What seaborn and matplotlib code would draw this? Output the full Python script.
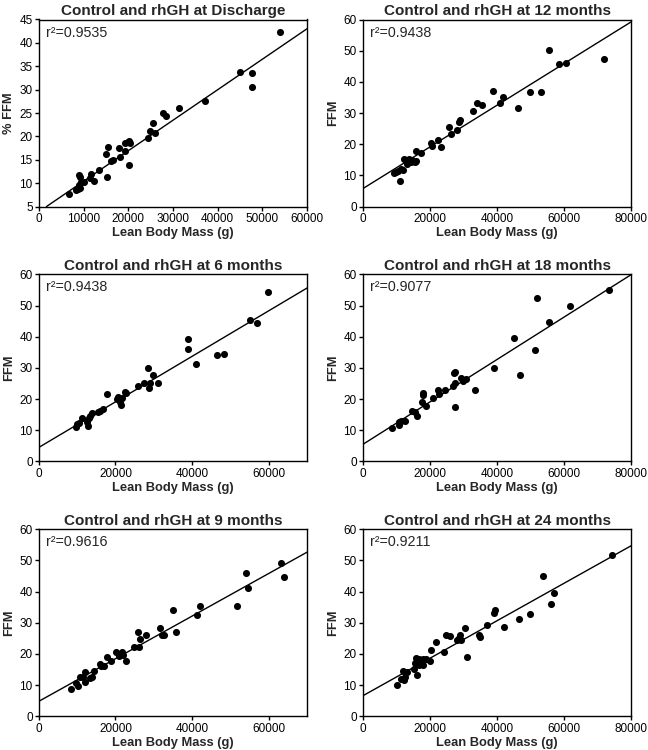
import numpy as np
import pandas as pd
import seaborn as sns
import matplotlib.pyplot as plt
from matplotlib.ticker import StrMethodFormatter

# Lean body mass (g) and FFM
lbm_discharge = [6730, 8230, 8750, 8900, 9130, 9280, 9000, 9500, 10020, 11740, 11520, 12270,
                 13460, 15260, 14960, 15560, 16230, 16600, 17950, 18250, 19300, 19300, 20050,
                 20200, 20300, 20200, 24380, 24830, 25580, 25960, 27830, 28350, 31420, 37250,
                 45030, 47800, 47800, 53860]
ffm_discharge = [7.7, 8.6, 8.7, 11.8, 8.9, 11.4, 9.6, 10.3, 10.3, 12.0, 11.05, 10.5,
                 12.8, 11.4, 16.2, 17.7, 14.8, 15.0, 17.6, 15.6, 18.7, 16.9, 18.9,
                 19.1, 18.5, 13.9, 19.7, 21.2, 22.9, 20.7, 25.1, 24.3, 26.1, 27.6,
                 33.8, 33.6, 30.5, 42.4]

lbm_6m = [9600, 9950, 10480, 11350, 12570, 12830, 13100, 13270, 13970, 15540, 16060, 16760,
          17900, 20430, 20780, 21300, 21390, 21830, 22520, 22700, 25930, 27410, 28370, 28720,
          28980, 29680, 31080, 38850, 39020, 40940, 46450, 48370, 55000, 56920, 59800]
ffm_6m = [11.1, 12.0, 12.3, 13.8, 12.6, 11.3, 13.9, 14.6, 15.4, 15.9, 16.2, 16.7,
          21.7, 20.0, 20.7, 18.9, 18.0, 20.3, 22.4, 21.9, 24.3, 25.3, 30.1, 23.7,
          25.0, 27.8, 25.2, 39.2, 36.2, 31.2, 34.2, 34.4, 45.4, 44.5, 54.3]

lbm_9m = [8360, 9750, 10100, 10800, 11490, 12100, 12100, 13230, 13850, 14450, 15840, 16190,
          16890, 17760, 18800, 20200, 20800, 21680, 21940, 22810, 24730, 25770, 26030, 26290,
          28030, 31690, 32040, 32740, 35000, 35870, 41270, 42140, 51710, 54060, 54580, 63290,
          64080]
ffm_9m = [8.8, 10.6, 9.6, 12.5, 12.5, 14.1, 10.9, 12.2, 12.7, 14.4, 16.8, 16.0,
          16.2, 19.1, 17.6, 20.7, 19.4, 20.5, 19.6, 17.8, 22.1, 27.1, 22.1, 24.8,
          26.2, 28.2, 26.2, 26.2, 34.2, 26.9, 32.6, 35.2, 35.2, 45.8, 41.2, 49.3,
          44.7]

lbm_12m = [9160, 9760, 10460, 10960, 11450, 11900, 12150, 12950, 13200, 13750, 14440, 14700,
           15440, 15740, 15900, 17430, 20420, 20720, 22410, 23210, 25700, 26190, 27890, 28690,
           28880, 32670, 34070, 35360, 38840, 40830, 41830, 46210, 49800, 52990, 55380, 58560,
           60560, 72010]
ffm_12m = [10.9, 11.2, 11.5, 8.3, 12.0, 11.6, 15.2, 14.9, 13.6, 15.2, 14.4, 15.1,
           14.3, 17.7, 14.6, 17.1, 20.5, 19.5, 21.4, 19.2, 25.6, 23.3, 24.6, 27.2,
           27.8, 30.5, 33.1, 32.5, 37.2, 33.1, 35.2, 31.5, 36.9, 36.6, 50.2, 45.8,
           46.0, 47.4]

lbm_18m = [8590, 10590, 10790, 11290, 12590, 14590, 15580, 15980, 17580, 17980, 17980, 18780,
           20780, 22380, 22580, 24580, 26970, 27170, 27570, 27570, 27570, 29170, 29970, 30770,
           33270, 39160, 44960, 46760, 51350, 51950, 55350, 61740, 73530]
ffm_18m = [10.7, 11.7, 12.6, 13.0, 13.0, 16.2, 15.8, 14.6, 19.0, 21.9, 21.3, 17.9,
           20.3, 22.8, 21.7, 22.8, 24.3, 28.3, 28.8, 17.6, 25.2, 26.6, 25.8, 26.3,
           22.8, 30.1, 39.5, 27.6, 35.7, 52.3, 44.8, 49.7, 54.9]

lbm_24m = [9990, 11290, 11790, 12290, 12590, 12990, 15280, 15580, 15780, 15980, 16580, 16780,
           17280, 17780, 17980, 18780, 19980, 20280, 21780, 24180, 24780, 25970, 27970, 28770,
           28970, 29270, 30470, 30970, 34560, 34760, 36960, 38960, 39360, 42060, 46550, 49750,
           53750, 56140, 57040, 74430]
ffm_24m = [10.1, 12.1, 14.6, 11.6, 12.5, 14.1, 15.3, 17.1, 18.7, 13.1, 16.5, 18.2,
           17.6, 16.3, 18.2, 18.5, 17.6, 21.4, 23.7, 20.6, 26.2, 25.6, 24.6, 25.1,
           25.9, 24.6, 28.3, 18.9, 26.2, 25.5, 29.4, 33.1, 34.2, 28.6, 31.3, 32.8,
           45.1, 36.1, 39.4, 51.6]

# fitted lines (intercept, slope) and r2 as printed
fit_intercept = [3.9, 5.8, 4.5, 5.5, 4.8, 6.6]
fit_slope = [0.000652, 0.000668, 0.000730, 0.000680, 0.000683, 0.000601]
r2_values = ["0.9535", "0.9438", "0.9438", "0.9077", "0.9616", "0.9211"]

titles = ["Control and rhGH at Discharge", "Control and rhGH at 12 months",
          "Control and rhGH at 6 months", "Control and rhGH at 18 months",
          "Control and rhGH at 9 months", "Control and rhGH at 24 months"]
ylabels = ["% FFM", "FFM", "FFM", "FFM", "FFM", "FFM"]
xlims = [60000, 80000, 70000, 80000, 70000, 80000]
xsteps = [10000, 20000, 20000, 20000, 20000, 20000]

panels = [(lbm_discharge, ffm_discharge), (lbm_12m, ffm_12m), (lbm_6m, ffm_6m),
          (lbm_18m, ffm_18m), (lbm_9m, ffm_9m), (lbm_24m, ffm_24m)]

sns.set_style("ticks")
plt.rcParams['font.family'] = ['Liberation Sans', 'DejaVu Sans']

fig, axes = plt.subplots(3, 2, figsize=(6.48, 7.5), dpi=100)
plt.subplots_adjust(left=0.060, right=0.974, top=0.974, bottom=0.045, wspace=0.209, hspace=0.362)

for i, ax in enumerate(axes.flat):
    x, y = panels[i]
    df = pd.DataFrame({'lbm': x, 'ffm': y})
    sns.scatterplot(x='lbm', y='ffm', data=df, ax=ax, color='black', s=26,
                    edgecolor='black', linewidth=0, zorder=3)
    ax.axline((0, fit_intercept[i]), slope=fit_slope[i], color='black', linewidth=1.0)

    ax.set_xlim(0, xlims[i])
    ax.set_xticks(np.arange(0, xlims[i] + 1, xsteps[i]))
    if i == 0:
        ax.set_ylim(5, 45)
        ax.set_yticks(np.arange(5, 46, 5))
    else:
        ax.set_ylim(0, 60)
        ax.set_yticks(np.arange(0, 61, 10))
    ax.xaxis.set_major_formatter(StrMethodFormatter('{x:.0f}'))

    for sp in ax.spines.values():
        sp.set_visible(True)
        sp.set_linewidth(1.0)
        sp.set_color('black')
    ax.tick_params(direction='out', length=3, width=1, labelsize=8.5, pad=1.5, colors='black')

    ax.set_title(titles[i], fontsize=11, fontweight='bold', pad=3)
    ax.set_xlabel('Lean Body Mass (g)', fontsize=9.3, fontweight='bold', labelpad=1.5)
    ax.set_ylabel(ylabels[i], fontsize=9.3, fontweight='bold', labelpad=3)
    ax.text(0.025, 0.93, 'r²=' + r2_values[i], transform=ax.transAxes,
            fontsize=10.3, va='center', ha='left')

fig.savefig('out.png', dpi=100)
